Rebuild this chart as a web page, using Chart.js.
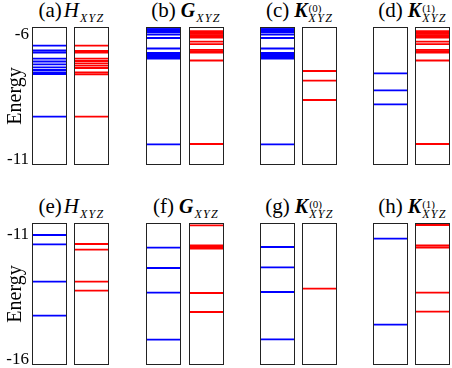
<!DOCTYPE html>
<html><head><meta charset="utf-8">
<script src="https://cdn.jsdelivr.net/npm/chart.js@4.4.1/dist/chart.umd.min.js"></script>
<style>
html,body{margin:0;padding:0;background:#fff;}
#wrap{position:relative;width:452px;height:368px;overflow:hidden;background:#fff;}
canvas{position:absolute;}
.ttl{position:absolute;font-family:"Liberation Serif",serif;color:#000;white-space:nowrap;transform:translateX(-50%);line-height:1;font-size:21px;}
.op{font-style:italic;font-size:21px;margin-left:2px;}
.opb{font-style:italic;font-weight:bold;font-size:20px;margin-left:5px;}
.ss{display:inline-block;vertical-align:-5px;line-height:10px;font-size:11px;margin-left:1px;}
.ss span{display:block;}
.ss .sub{font-style:italic;font-size:12px;letter-spacing:1.3px;}
</style></head><body><div id="wrap"></div>
<script>
// ---- text ----
const panelLabels = ['(a)','(b)','(c)','(d)','(e)','(f)','(g)','(h)'];
const operators   = ['H','G','K','K','H','G','K','K'];
const superscripts= ['','','(0)','(1)','','','(0)','(1)'];
const subscriptText = 'XYZ';
const yAxisTitle = 'Energy';
const topRowTicks = [-6,-11];
const bottomRowTicks = [-11,-16];
const topRowRange = [-11.2,-5.7];
const bottomRowRange = [-16.24,-10.53];

// ---- energy levels (blue = left column, red = right column) ----
const aBlue = [-6.445,-6.637,-6.716,-6.963,-7.075,-7.187,-7.306,-7.414,-7.513,-7.573,-9.275];
const aRed  = [-6.445,-6.657,-6.716,-6.963,-7.055,-7.147,-7.242,-7.334,-7.513,-7.585,-9.275];
const bBlue = [-5.732,-5.788,-5.843,-5.899,-5.999,-6.138,-6.557,-6.736,-6.796,-6.856,-6.916,-6.963,-10.375];
const bRed  = [-5.867,-5.919,-5.971,-6.023,-6.075,-6.126,-6.286,-6.386,-6.609,-6.665,-6.716,-7.035,-10.363];
const cBlue = [-5.732,-5.788,-5.843,-5.899,-5.999,-6.138,-6.557,-6.736,-6.796,-6.856,-6.916,-6.963,-10.375];
const cRed  = [-7.454,-7.840,-8.610];
const dBlue = [-7.545,-8.223,-8.781];
const dRed  = [-5.867,-5.919,-5.971,-6.023,-6.075,-6.126,-6.286,-6.386,-6.609,-6.665,-6.716,-7.035,-10.363];
const eBlue = [-11.013,-11.386,-12.890,-14.257];
const eRed  = [-11.374,-11.604,-12.890,-13.252];
const fBlue = [-11.523,-12.339,-13.333,-15.222];
const fRed  = [-10.622,-11.435,-11.495,-11.555,-13.345,-14.109];
const gBlue = [-11.495,-12.311,-13.304,-15.206];
const gRed  = [-13.172];
const hBlue = [-11.161,-14.619];
const hRed  = [-10.610,-11.435,-11.515,-13.333,-14.097];

const panels = [[aBlue,aRed],[bBlue,bRed],[cBlue,cRed],[dBlue,dRed],[eBlue,eRed],[fBlue,fRed],[gBlue,gRed],[hBlue,hRed]];

// ---- layout ----
const blueLeft = [32,146,260,373];
const redLeft  = [74,189,302,415];
const boxW = 35;
const rowTop = [27,223];
const rowH = [138,142];
const titleTop = [0,196];
const wrap = document.getElementById('wrap');

const boxPlugin = {
  id:'boxBorder',
  afterDraw(chart){
    const a = chart.chartArea, ctx = chart.ctx;
    ctx.save();
    ctx.strokeStyle = '#222';
    ctx.lineWidth = 1;
    ctx.strokeRect(a.left+0.5, a.top+0.5, a.right-a.left-1, a.bottom-a.top-1);
    ctx.restore();
  }
};

function makeBox(row, col, side, levels){
  const isAxis = (col===0 && side===0);
  const x0 = side===0 ? blueLeft[col] : redLeft[col];
  const axisW = isAxis ? x0 : 0;
  const range = row===0 ? topRowRange : bottomRowRange;
  const tickVals = row===0 ? topRowTicks : bottomRowTicks;
  const cv = document.createElement('canvas');
  cv.width = boxW + axisW; cv.height = rowH[row];
  cv.style.left = (x0-axisW)+'px'; cv.style.top = rowTop[row]+'px';
  cv.style.width = cv.width+'px'; cv.style.height = cv.height+'px';
  wrap.appendChild(cv);
  const color = side===0 ? '#0000ff' : '#ff0000';
  const datasets = levels.map(e => ({
    data:[{x:0,y:e},{x:1,y:e}], borderColor:color, borderWidth:1.8,
    pointRadius:0, fill:false, tension:0
  }));
  new Chart(cv, {
    type:'line',
    data:{datasets},
    options:{
      responsive:false, animation:false, devicePixelRatio:1, events:[],
      layout:{padding:0},
      plugins:{legend:{display:false}, tooltip:{enabled:false}},
      scales:{
        x:{type:'linear', min:0, max:1, display:false},
        y:{type:'linear', min:range[0], max:range[1], display:isAxis,
          grid:{display:false, drawTicks:false}, border:{display:false},
          afterBuildTicks: s => { s.ticks = tickVals.map(v => ({value:v})); },
          afterFit: s => { s.width = axisW; s.paddingTop = 0; s.paddingBottom = 0; },
          ticks:{color:'#000', font:{family:'Liberation Serif', size:17}, padding:3},
          title:{display:true, text:yAxisTitle, color:'#000',
            font:{family:'Liberation Serif', size:20}, padding:{top:4,bottom:0}}
        }
      }
    },
    plugins:[boxPlugin]
  });
}

panels.forEach((p, i) => {
  const row = Math.floor(i/4), col = i%4;
  makeBox(row, col, 0, p[0]);
  makeBox(row, col, 1, p[1]);
  // title
  const d = document.createElement('div');
  d.className = 'ttl';
  const center = (blueLeft[col] + redLeft[col] + boxW)/2 + 1;
  d.style.left = center+'px';
  d.style.top = titleTop[row]+'px';
  const lab = document.createElement('span'); lab.textContent = panelLabels[i]; d.appendChild(lab);
  const op = document.createElement('span');
  op.className = (operators[i]==='H') ? 'op' : 'opb';
  op.textContent = operators[i]; d.appendChild(op);
  const ss = document.createElement('span'); ss.className = 'ss';
  const sup = document.createElement('span'); sup.className='sup'; sup.innerHTML = superscripts[i] || '&nbsp;';
  const sub = document.createElement('span'); sub.className='sub'; sub.textContent = subscriptText;
  ss.appendChild(sup); ss.appendChild(sub); d.appendChild(ss);
  wrap.appendChild(d);
});
</script></body></html>
